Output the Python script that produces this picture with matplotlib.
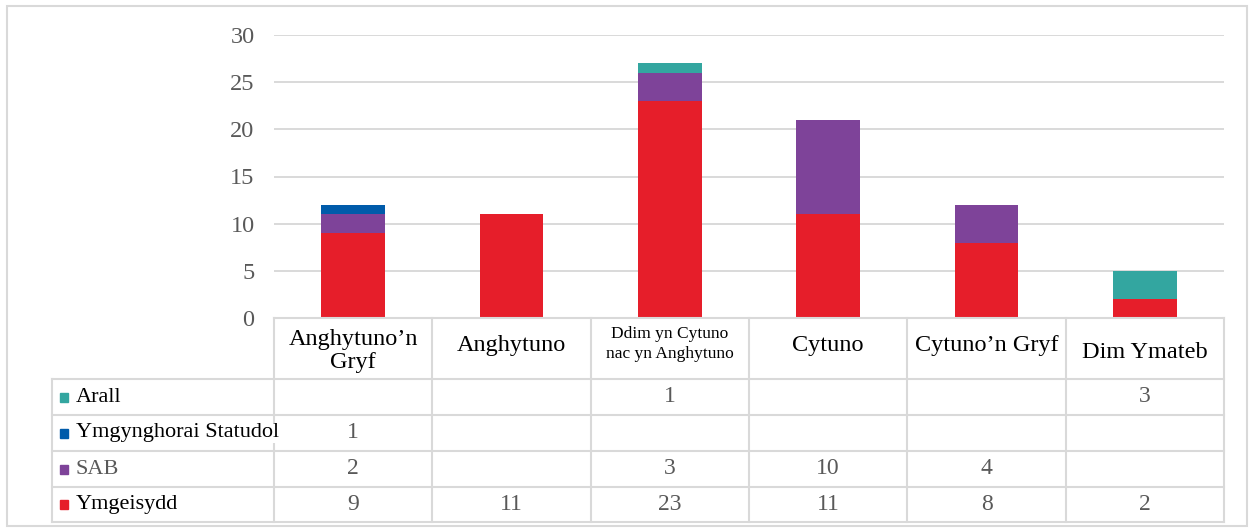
import matplotlib.pyplot as plt
from matplotlib.patches import Rectangle

# data
categories = ["Anghytuno\u2019n\nGryf", "Anghytuno", "Ddim yn Cytuno\nnac yn Anghytuno",
              "Cytuno", "Cytuno\u2019n Gryf", "Dim Ymateb"]
ymgeisydd = [9, 11, 23, 11, 8, 2]
sab = [2, 0, 3, 10, 4, 0]
statudol = [1, 0, 0, 0, 0, 0]
arall = [0, 0, 1, 0, 0, 3]
yticks = [0, 5, 10, 15, 20, 25, 30]

series = [("Ymgeisydd", ymgeisydd, "#E61E2A"),
          ("SAB", sab, "#7E4399"),
          ("Ymgynghorai Statudol", statudol, "#005BAA"),
          ("Arall", arall, "#33A6A0")]

plt.rcParams['font.family'] = ['Liberation Serif', 'DejaVu Serif']
grid_c = "#D9D9D9"
grey_txt = "#595959"

W, H = 1253, 531
fig = plt.figure(figsize=(12.53, 5.31), dpi=100)

# outer chart border
fig.patches.append(Rectangle((7 / W, 1 - 526 / H), 1240 / W, 520 / H, transform=fig.transFigure,
                             fill=False, edgecolor=grid_c, linewidth=1.5))

x0, x1 = 274, 1224
ax = fig.add_axes([x0 / W, 1 - 318 / H, (x1 - x0) / W, (318 - 35) / H])
xs = list(range(len(categories)))
bottom = [0] * len(categories)
for name, vals, col in series:
    ax.bar(xs, vals, bottom=bottom, width=0.4, color=col, zorder=3)
    bottom = [b + v for b, v in zip(bottom, vals)]
ax.set_xlim(-0.5, len(categories) - 0.5)
ax.set_ylim(0, 30)
ax.set_yticks(yticks)
ax.set_xticks([])
ax.grid(axis="y", color=grid_c, linewidth=1.4, zorder=0)
ax.tick_params(axis="y", length=0, pad=14, labelsize=17.5, labelcolor=grey_txt)
for s in ax.spines.values():
    s.set_visible(False)

# data table below the plot
col_w = (x1 - x0) / len(categories)
left_units = (x0 - 52) / col_w
tb = fig.add_axes([52 / W, 1 - 522 / H, (x1 - 52) / W, (522 - 318) / H])
tb.set_xlim(-0.5 - left_units, len(categories) - 0.5)
tb.set_ylim(204, 0)
tb.axis("off")
rows_y = [0, 61, 97, 133, 169, 204]
xl = -0.5 - left_units
for y in rows_y:
    start = -0.5 if y == 0 else xl
    tb.plot([start, len(categories) - 0.5], [y, y], color=grid_c, lw=1.5, clip_on=False)
for i in range(len(categories) + 1):
    tb.plot([i - 0.5, i - 0.5], [0, 204], color=grid_c, lw=1.5, clip_on=False)
tb.plot([xl, xl], [61, 204], color=grid_c, lw=1.5, clip_on=False)

# header row
for i, c in enumerate(categories):
    if c.startswith("Ddim"):
        tb.text(i, 26, c, ha="center", va="center", fontsize=12.5, linespacing=1.35)
    elif c == "Dim Ymateb":
        tb.text(i, 35, c, ha="center", va="center", fontsize=17.5)
    elif "\n" in c:
        tb.text(i, 33, c, ha="center", va="center", fontsize=17.5, linespacing=1.15)
    else:
        tb.text(i, 27, c, ha="center", va="center", fontsize=17.5)

# series rows, top to bottom in reverse stacking order
for r, (name, vals, col) in enumerate(reversed(series)):
    yc = (rows_y[r + 1] + rows_y[r + 2]) / 2
    tb.add_patch(Rectangle((xl + 8 / col_w, yc - 4.5), 8.5 / col_w, 9, color=col, clip_on=False))
    tb.text(xl + 24 / col_w, yc, name, ha="left", va="center", fontsize=16,
            color=grey_txt if name == "SAB" else "black",
            bbox=dict(facecolor="white", edgecolor="none", pad=0.5))
    for i, v in enumerate(vals):
        if v:
            tb.text(i, yc, str(v), ha="center", va="center", fontsize=17, color=grey_txt)

fig.savefig("out.png", dpi=100)
